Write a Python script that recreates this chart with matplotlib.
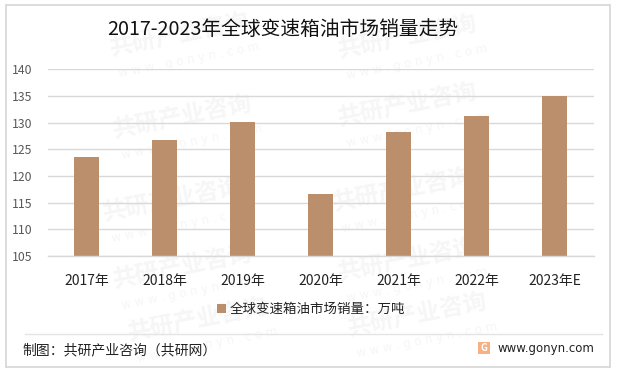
import matplotlib
matplotlib.use('Agg')
import matplotlib.pyplot as plt
from matplotlib.patches import Rectangle

plt.rcParams['font.family'] = ['Noto Sans CJK SC', 'DejaVu Sans']

years = ['2017年', '2018年', '2019年', '2020年', '2021年', '2022年', '2023年E']
sales = [123.6, 126.8, 130.1, 116.7, 128.3, 131.2, 135.0]
yticks = [105, 110, 115, 120, 125, 130, 135, 140]
series_name = '全球变速箱油市场销量：万吨'
title = '2017-2023年全球变速箱油市场销量走势'
source = '制图：共研产业咨询（共研网）'
site = 'www.gonyn.com'
wm_pos = [(112, 60), (340, 62), (115, 142), (340, 130), (105, 225), (335, 215),
          (115, 292), (340, 285), (130, 345), (350, 340)]

W, H = 617, 373
fig = plt.figure(figsize=(W/100, H/100), dpi=100)
bg = fig.add_axes([0, 0, 1, 1], zorder=0)
bg.set_xlim(0, W)
bg.set_ylim(H, 0)
bg.axis('off')

# outer frame
bg.add_patch(Rectangle((5.5, 4.5), 604.5, 362.5, fc='white', ec='#d9d9d9', lw=1.3))

# watermark
for x, y in wm_pos:
    bg.text(x, y, '共研产业咨询', fontsize=17, fontweight='bold', color='#f6f6f6', rotation=11,
            ha='left', va='bottom', rotation_mode='anchor')
    bg.text(x+8, y+20, 'w w w . g o n y n . c o m', fontsize=8.5, color='#f6f6f6', rotation=11,
            ha='left', va='bottom', rotation_mode='anchor', fontfamily='DejaVu Sans')

ax = fig.add_axes([47.5/W, 1-256/H, 546/W, (256-69.3)/H], zorder=1)
ax.patch.set_alpha(0)
ax.bar(range(len(years)), sales, width=0.315, color='#bc8f6c', zorder=2, label=series_name)
ax.set_xlim(-0.5, 6.5)
ax.set_ylim(105, 140)
ax.set_yticks(yticks)
ax.set_xticks(range(len(years)))
ax.set_xticklabels(years, fontsize=10, color='#222222')
ax.tick_params(axis='x', length=0, pad=13)
ax.tick_params(axis='y', length=0, pad=11, labelsize=8.8, labelcolor='#595959')
ax.grid(axis='y', color='#d9d9d9', lw=1, zorder=0)
for s in ['top', 'right', 'left']:
    ax.spines[s].set_visible(False)
ax.spines['bottom'].set_color('#d9d9d9')
ax.spines['bottom'].set_linewidth(1)

fig.text(107/W, 1-29/H, title, fontsize=14.2, color='#111111', ha='left', va='center')

# legend
ax.legend(loc='center', bbox_to_anchor=(311/W, 1-309/H), bbox_transform=fig.transFigure, frameon=False,
          fontsize=9.7, handlelength=0.65, handleheight=0.65, handletextpad=0.25, labelcolor='#222222')

# footer
fg = fig.add_axes([0, 0, 1, 1], zorder=2)
fg.set_xlim(0, W)
fg.set_ylim(H, 0)
fg.axis('off')
fg.plot([25, 602], [334, 334], color='#e4e4e4', lw=1)
fg.text(22, 350, source, fontsize=10, color='#222222', ha='left', va='center')
fg.text(497, 348.5, site, fontsize=8.5, color='#222222', ha='left', va='center', fontfamily='DejaVu Sans')
fg.add_patch(Rectangle((478, 342), 12, 12, fc='#f5b183', ec='none'))
fg.text(484, 348, 'G', fontsize=7, fontweight='bold', color='white', ha='center', va='center')

fig.savefig('out.png', dpi=100)
